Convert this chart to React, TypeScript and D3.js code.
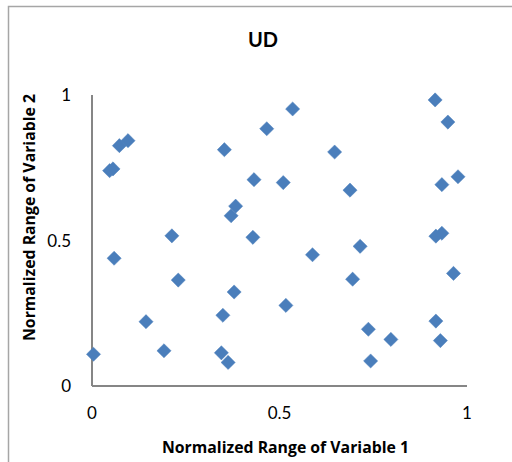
import React from "react";
import * as d3 from "d3";

// Normalized design points (variable 1, variable 2)
const var1: number[] = [
  0.004, 0.047, 0.056, 0.073, 0.096, 0.059, 0.144, 0.192, 0.213, 0.230,
  0.353, 0.349, 0.345, 0.363, 0.371, 0.383, 0.379, 0.432, 0.429, 0.466,
  0.510, 0.535, 0.517, 0.588, 0.647, 0.688, 0.715, 0.695, 0.737, 0.797,
  0.743, 0.915, 0.949, 0.976, 0.933, 0.917, 0.933, 0.964, 0.917, 0.929,
];
const var2: number[] = [
  0.109, 0.740, 0.746, 0.826, 0.843, 0.439, 0.221, 0.121, 0.516, 0.364,
  0.812, 0.243, 0.114, 0.081, 0.585, 0.618, 0.323, 0.709, 0.511, 0.884,
  0.699, 0.952, 0.277, 0.451, 0.804, 0.673, 0.480, 0.367, 0.195, 0.160,
  0.086, 0.983, 0.907, 0.719, 0.692, 0.515, 0.525, 0.387, 0.223, 0.156,
];
const xTicks: number[] = [0, 0.5, 1];
const yTicks: number[] = [0, 0.5, 1];
const xTickLabels: string[] = ["0", "0.5", "1"];
const yTickLabels: string[] = ["0", "0.5", "1"];

const chartTitle = "UD";
const xTitle = "Normalized Range of Variable 1";
const yTitle = "Normalized Range of Variable 2";

const W = 512;
const H = 462;
const plot = { left: 92, right: 467, top: 95, bottom: 386 };
const FONT = "Lato, 'Open Sans', sans-serif";
const TITLE_FONT = "'Open Sans', Lato, sans-serif";

export default function App() {
  const x = d3.scaleLinear().domain([0, 1]).range([plot.left, plot.right]);
  const y = d3.scaleLinear().domain([0, 1]).range([plot.bottom, plot.top]);
  const diamond = d3.symbol().type(d3.symbolDiamond2).size(128)();
  const points = var1.map((v, i) => ({ x: v, y: var2[i] }));

  return (
    <svg
      width={W}
      height={H}
      viewBox={`0 0 ${W} ${H}`}
      style={{ position: "absolute", left: 0, top: 0, background: "#fff" }}
    >
      {/* chart frame */}
      <path
        d={`M8.5,${H + 2}V6.5H${W + 2}`}
        fill="none"
        stroke="#a6a6a6"
        strokeWidth={1.5}
      />
      <text
        x={263}
        y={47}
        textAnchor="middle"
        fontFamily={FONT}
        fontWeight="bold"
        fontSize={20}
        fill="#000"
      >
        {chartTitle}
      </text>

      {/* axes */}
      <line
        x1={plot.left}
        x2={plot.left}
        y1={y(1)}
        y2={y(0)}
        stroke="#868686"
        strokeWidth={2}
      />
      <line
        x1={plot.left}
        x2={x(1)}
        y1={y(0)}
        y2={y(0)}
        stroke="#868686"
        strokeWidth={2}
      />

      {yTicks.map((t, i) => (
        <text
          key={`yt${i}`}
          x={71}
          y={y(t) + 6}
          textAnchor="end"
          fontFamily={FONT}
          fontSize={17}
          fill="#000"
        >
          {yTickLabels[i]}
        </text>
      ))}
      {xTicks.map((t, i) => (
        <text
          key={`xt${i}`}
          x={x(t)}
          y={419}
          textAnchor="middle"
          fontFamily={FONT}
          fontSize={17}
          fill="#000"
        >
          {xTickLabels[i]}
        </text>
      ))}

      <text
        x={285.5}
        y={453}
        textAnchor="middle"
        fontFamily={TITLE_FONT}
        fontWeight="bold"
        fontSize={15.8}
        fill="#000"
      >
        {xTitle}
      </text>
      <text
        transform={`translate(34.5,217.5) rotate(-90)`}
        textAnchor="middle"
        fontFamily={TITLE_FONT}
        fontWeight="bold"
        fontSize={15.8}
        fill="#000"
      >
        {yTitle}
      </text>

      {/* design points */}
      {points.map((p, i) => (
        <path
          key={i}
          d={diamond ?? ""}
          transform={`translate(${x(p.x)},${y(p.y)})`}
          fill="#4a7ebb"
          stroke="#4f81bd"
          strokeWidth={0.5}
        />
      ))}
    </svg>
  );
}
